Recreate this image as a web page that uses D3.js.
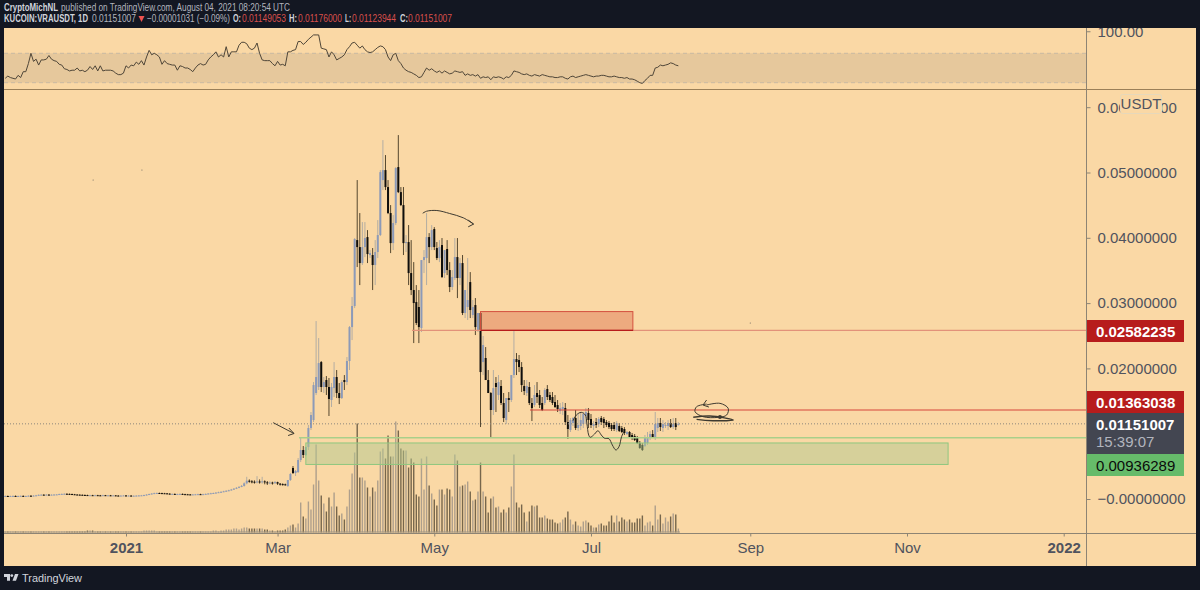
<!DOCTYPE html>
<html>
<head>
<meta charset="utf-8">
<title>KUCOIN:VRAUSDT</title>
<script src="https://cdn.jsdelivr.net/npm/d3@7"></script>
<style>
  html, body { margin: 0; padding: 0; background: #131722; overflow: hidden; }
  text { font-family: "Liberation Sans", Arial, sans-serif; }
</style>
</head>
<body>
<svg id="chart" width="1200" height="590"></svg>
<script>
// first daily candle
var firstDay = Date.UTC(2020, 10, 15);

// prices are in 0.00001 USDT, one entry per day
var opens = [
  45,46,44,46,47,45,46,48,44,46, 50,47,52,56,64,66,64,67,65,66,
  68,70,76,78,80,78,76,72,68,66, 64,62,60,58,58,56,58,56,55,58,
  54,56,53,55,52,50,52,54,50,52, 48,50,52,54,56,60,68,76,84,90,
  92,90,88,86,82,78,78,76,76,78, 74,72,70,68,70,72,74,72,74,78,
  84,88,92,98,104,110,118,126,134,146, 158,172,186,200,240,280,270,265,260,268,
  262,270,255,240,252,245,258,235,228,225,
  199,291,475,398,413,597,750,674,796,1087,
  1209,1623,1715,2097,1715,1822,1715,1516,1699,1868,
  1623,1546,1822,1791,2113,2633,2955,3965,3858,3613,
  3858,4011,3736,3736,3583,3782,4042,4884,5037,4777,
  4379,3919,4226,5083,4700,4501,3919,3935,3460,3200,
  3016,2940,2618,3659,3690,4011,3858,4134,3843,3690,
  3889,3460,3828,3506,3246,3384,3705,3384,3613,2848,
  2940,3322,2817,2970,2587,2848,2097,2159,1822,1623,
  1363,1776,1592,1730,1470,1209,1546,1516,1898,2143,
  2128,2021,1730,1623,1715,1470,1439,1623,1592,1470,
  1470,1684,1592,1562,1485,1439,1347,1378,1393,1179,
  1056,1164,1240,1087,1118,1148,1271,1317,1225,1118,
  1179,1148,1240,1225,1179,1164,1133,1133,1056,1118,
  1087,1072,995,1026,980,965,934,857,827,811,
  857,934,995,949,1087,1164,1087,1118,1118,1164,
  1102,1164,1149
];
var highs = [
  55,53,52,54,54,53,55,54,52,57, 57,58,63,70,73,72,73,73,72,75,
  76,82,84,87,86,84,82,78,74,72, 70,68,66,64,64,65,64,62,64,62,
  62,62,61,60,58,58,60,60,58,58, 56,58,60,62,66,74,82,90,97,100,
  98,96,94,92,88,84,84,82,84,84, 80,78,76,76,78,80,80,80,84,90,
  95,98,105,112,118,126,134,142,155,168, 182,196,215,255,340,300,290,285,350,300,
  340,285,275,270,265,275,265,245,240,235,
  291,398,505,444,628,949,811,800,1133,1332,
  1791,2725,2465,2113,1868,1883,1853,1776,2097,1975,
  1776,1822,1898,2174,2649,3093,3996,4884,4379,4241,
  4241,4118,3812,3843,3965,4271,5037,5496,5267,4884,
  4501,4348,5083,5573,4777,4777,4042,4195,3965,3628,
  3276,3200,3659,3812,4379,4072,4195,4164,3935,3965,
  3996,3812,3965,3628,3506,3996,3996,3690,3736,3200,
  3690,3475,3047,3077,2848,2848,2496,2327,1975,1638,
  1975,1868,1898,1822,1623,1546,1638,1898,2587,2235,
  2205,2097,1822,1822,1791,1546,1745,1791,1669,1562,
  1699,1745,1638,1638,1592,1516,1470,1485,1470,1286,
  1240,1255,1363,1317,1332,1332,1393,1393,1301,1194,
  1240,1255,1271,1255,1209,1194,1164,1179,1194,1164,
  1118,1102,1041,1041,1011,995,965,888,857,980,
  1026,1041,1056,1332,1240,1240,1209,1179,1209,1225,
  1240,1240,1176
];
var lows = [
  38,37,38,40,38,38,40,37,38,40, 40,42,47,50,58,57,58,58,58,60,
  62,64,70,72,70,68,65,62,60,58, 56,54,52,50,50,50,50,48,48,47,
  48,46,47,45,44,44,46,44,44,42, 43,44,46,48,50,54,62,70,76,82,
  84,82,80,76,72,70,70,68,68,68, 66,64,62,62,64,66,66,66,68,72,
  78,84,88,94,100,106,112,120,128,140, 152,165,180,190,225,250,240,235,240,235,
  235,225,215,225,220,230,215,205,205,205,
  184,276,383,352,398,566,628,658,750,1056,
  1179,1592,1669,1638,1623,1592,1271,1409,1562,1546,
  1454,1531,1669,1745,1975,2434,2924,3552,3276,3583,
  3705,3613,3690,3200,3276,3690,4027,4731,4731,4363,
  3766,3812,4195,4685,4486,3736,3782,3276,3123,2388,
  2664,2388,2557,3460,3276,3613,3812,3812,3659,3628,
  3384,3384,3429,3169,3200,3353,3077,3276,2817,2771,
  2741,2771,2771,2511,2557,1102,1898,1822,1623,934,
  1286,1332,1516,1439,1179,1148,1332,1485,1853,1898,
  1944,1638,1592,1577,1439,1194,1409,1470,1393,1347,
  1439,1516,1485,1439,1393,1332,1301,1286,1133,919,
  1026,1118,1056,1041,1056,1087,1148,1087,1087,1056,
  1087,1102,1133,1087,1102,1072,1041,1041,1026,1026,
  1011,980,980,934,903,888,842,766,735,796,
  827,903,934,903,1026,1041,1026,1087,1056,1087,
  1072,1056,1123
];
var closes = [
  46,44,46,47,45,46,48,44,46,50, 47,52,56,64,66,64,67,65,66,68,
  70,76,78,80,78,76,72,68,66,64, 62,60,58,58,56,58,56,55,58,54,
  56,53,55,52,50,52,54,50,52,48, 50,52,54,56,60,68,76,84,90,92,
  90,88,86,82,78,78,76,76,78,74, 72,70,68,70,72,74,72,74,78,84,
  88,92,98,104,110,118,126,134,146,158, 172,186,200,240,280,270,265,260,268,262,
  270,255,240,252,245,258,235,228,225,222,
  291,383,398,429,597,750,674,796,1087,1286,
  1745,1868,2082,1715,1791,1715,1531,1715,1868,1623,
  1546,1791,1791,2113,2633,2955,3981,3858,3613,3858,
  3996,3751,3766,3583,3782,4042,5006,5037,4777,4379,
  3919,4226,5068,4700,4501,3919,3935,3460,3200,3001,
  2695,2633,3659,3705,4011,3858,4118,3858,3690,3858,
  3399,3812,3506,3246,3399,3705,3384,3613,2848,3200,
  3047,2894,2940,2633,2848,1944,2358,1822,1623,1363,
  1699,1715,1791,1470,1240,1546,1516,1898,2143,2097,
  2021,1745,1653,1730,1470,1393,1592,1562,1439,1363,
  1669,1562,1516,1470,1409,1378,1393,1409,1179,1072,
  1209,1240,1087,1133,1209,1301,1332,1209,1133,1148,
  1133,1225,1179,1164,1133,1102,1072,1072,1164,1041,
  1026,1011,1026,949,934,903,857,781,750,934,
  949,995,949,1148,1164,1102,1148,1133,1164,1102,
  1148,1102,1151
];
// volume, relative units
var volumes = [
  1,1,1,1,1,1,1,1,1,1, 1,1,1,1,1,1,1,1,1,1, 1,1,1,1,1,1,1,1,1,1,
  1,1,2,2,2,1,1,1,1,1, 1,1,1,1,1,1,1,1,1,1, 1,1,1,1,2,2,2,2,2,1,
  1,1,1,1,1,1,1,1,1,1, 1,1,1,1,1,1,1,1,1,1, 1,2,2,1,2,2,3,3,3,4,
  4,3,4,5,5,4,4,4,4,4, 4,3,3,2,2,1,2,2,2,3, 5,
  7,8,5,9,30,16,14,31,23,48,
  88,52,37,29,21,35,26,40,26,17,
  19,13,26,43,59,80,109,55,55,52,
  45,36,45,41,52,81,84,74,97,76,
  76,111,102,84,82,82,65,74,70,38,
  36,74,43,76,47,39,33,27,43,43,
  38,44,43,36,78,72,46,47,48,51,
  41,32,33,41,70,41,36,20,34,36,
  25,26,20,23,20,25,46,78,30,25,
  28,20,11,21,
  27,26,27,15,15,17,14,13,13,10,
  9,10,13,15,21,13,8,11,7,6,
  11,12,10,7,5,5,8,9,7,7,
  11,17,10,17,11,15,13,11,13,10,
  10,14,14,17,7,10,11,7,27,13,
  18,9,15,11,16,19,18,4
];
var rsiValues = [
  36,39,37,36,35,40,37,45,45,56, 70,59,62,54,61,61,62,67,62,60,
  59,55,54,49,48,46,47,47,50,46, 47,45,47,52,48,53,46,53,46,47,
  47,47,46,43,41,41,43,53,50,54, 53,58,55,60,54,65,74,68,70,68,
  65,55,60,56,55,54,54,47,53,52, 50,50,48,45,50,54,56,54,55,61,
  65,68,72,65,68,65,79,65,72,72, 72,81,85,85,83,77,75,77,84,70,
  61,60,60,60,56,53,59,54,55,53, 72,72,74,75,86,86,82,85,89,92,
  95,95,95,77,76,75,65,72,68,61, 63,65,68,75,79,84,85,81,77,80,
  75,72,71,72,75,78,80,79,75,65, 60,68,70,
  60,56,50,47,45,44,42,40,37,38,
  44,50,47,49,46,44,46,43,46,44,
  42,43,46,45,44,45,40,42,40,41,
  39,41,36,38,37,38,34,38,37,38,
  37,35,38,37,40,46,45,44,42,41,
  42,40,39,41,40,39,41,40,39,38,
  38,37,37,38,38,36,35,38,39,37,
  38,39,40,41,40,39,38,39,39,40,
  40,39,38,38,39,38,37,37,36,37,
  35,35,34,32,30,29,33,36,40,40,
  50,51,54,53,54,55,57,56,54,53
];

var priceTicks = [0, 0.01, 0.02, 0.03, 0.04, 0.05, 0.06];
var rsiTicks = [100];
var timeTicks = ["2021-01-01", "2021-03-01", "2021-05-01", "2021-07-01", "2021-09-01", "2021-11-01", "2022-01-01"];
var timeLabels = ["2021", "Mar", "May", "Jul", "Sep", "Nov", "2022"];

// drawings, [day offset from 2021-01-01, price in 0.00001 USDT]
var arrowDown = [[57.3,1169],[65.4,1003]];
var arrowDownHead = [[63.4,1087],[65.4,1003],[63.1,972]];
var arrowTop = [[115.5,4376],[117,4407],[121,4418],[126,4372],[131.3,4306],[135.3,4210]];
var arrowTopHead = [[133.2,4271],[135.3,4210],[133.2,4168]];
var wave = [[174,1199],[175.3,1286],[177.2,1327],[178.8,1286],[179.4,1159],[180.1,980],[180.7,945],
  [182.4,995],[183.7,1046],[185,980],[186.3,929],[188,923],[189.3,827],[190.7,750],[191.9,801],[192.9,954],[193.8,1031]];
var scribble = [[226,1439],[231.2,1465],[234.4,1389],[233.8,1286],[230.6,1251],[224.7,1260],[221.5,1337],[222.1,1413],[226,1454]];
var scribbleHead = [[226,1516],[224.6,1439],[226.9,1408]];
var scribbleLine = [[220.8,1251],[227.3,1271],[236.4,1210],[228.5,1199],[222.1,1220]];
var scribbleKnot = [231.2,1255];
var specks = [[-12.8,4884],[6.2,5037],[243,2695]];

var red = "#b71c1c", green = "#66bb6a", peach = "#fad8a5", grey = "#50535e";

var svg = d3.select("#chart");

svg.append("defs").append("clipPath").attr("id", "frame")
  .append("rect").attr("x", 4).attr("y", 28).attr("width", 1192).attr("height", 538);

var x = d3.scaleUtc().domain([Date.UTC(2021, 0, 1), Date.UTC(2022, 0, 1)]).range([126, 1063.7]);
var y = d3.scaleLinear().domain([0, 0.06]).range([499, 107.2]);
var yRsi = d3.scaleLinear().domain([30, 70]).range([82.7, 53.3]);
var yVol = d3.scaleLinear().domain([0, 110]).range([532.5, 422.5]);

function dayX(i) { return x(firstDay + i * 86400000); }
function drawX(d) { return x(Date.UTC(2021, 0, 1) + d * 86400000); }
function priceY(v) { return y(v / 100000); }

// panel background
svg.append("rect").attr("x", 4).attr("y", 28).attr("width", 1192).attr("height", 538).attr("fill", peach);

var plot = svg.append("g").attr("clip-path", "url(#frame)");

// RSI pane
plot.append("rect").attr("x", 4).attr("width", 1082)
  .attr("y", yRsi(70)).attr("height", yRsi(30) - yRsi(70)).attr("fill", "#e6c89c");
[70, 30].forEach(function(level) {
  plot.append("line").attr("x1", 4).attr("x2", 1086).attr("y1", yRsi(level)).attr("y2", yRsi(level))
    .attr("stroke", "#c9b9a2").attr("stroke-dasharray", "4,3");
});
var rsiLine = d3.line().x(function(d, i) { return dayX(i); }).y(function(d) { return yRsi(d); });
plot.append("path").datum(rsiValues).attr("d", rsiLine).attr("fill", "none")
  .attr("stroke", "#4f4638").attr("stroke-width", 1);

// volume
plot.selectAll("rect.vol").data(volumes).enter().append("rect").attr("class", "vol")
  .attr("x", function(d, i) { return dayX(i) - 0.7; })
  .attr("width", 1.4)
  .attr("y", function(d) { return yVol(d); })
  .attr("height", function(d) { return yVol(0) - yVol(d); })
  .attr("fill", function(d, i) { return closes[i] >= opens[i] ? "#ae9f8c" : "#76664c"; });
plot.append("line").attr("x1", 4).attr("x2", 680).attr("y1", 532).attr("y2", 532)
  .attr("stroke", "#a09480").attr("stroke-width", 1);

// candles
var candles = plot.selectAll("g.candle").data(opens).enter().append("g").attr("class", "candle");
candles.append("line")
  .attr("x1", function(d, i) { return dayX(i); })
  .attr("x2", function(d, i) { return dayX(i); })
  .attr("y1", function(d, i) { return priceY(highs[i]); })
  .attr("y2", function(d, i) { return priceY(lows[i]); })
  .attr("stroke", function(d, i) { return closes[i] >= d ? "#b3ada3" : "#55472f"; })
  .attr("stroke-width", 1);
candles.append("rect")
  .attr("x", function(d, i) { return dayX(i) - 1; })
  .attr("width", 2)
  .attr("y", function(d, i) { return priceY(Math.max(d, closes[i])); })
  .attr("height", function(d, i) { return Math.max(1, Math.abs(priceY(d) - priceY(closes[i]))); })
  .attr("fill", function(d, i) { return closes[i] >= d ? "#8c9ab8" : "#0f0e0c"; });

// support and resistance levels
function levelLine(x1, x2, price, color, width, dash) {
  plot.append("line").attr("x1", x1).attr("x2", x2).attr("y1", y(price)).attr("y2", y(price))
    .attr("stroke", color).attr("stroke-width", width).attr("stroke-dasharray", dash || null);
}
levelLine(4, 1086, 0.01151007, "#8d877c", 1, "1,2");
levelLine(412, 1086, 0.02582235, "#e2927a", 1.4);
levelLine(530, 1086, 0.01363038, "#d5473c", 1.2);
levelLine(299, 1086, 0.00936289, "#a9cf8a", 1.5);

// zones
plot.append("rect").attr("x", drawX(138)).attr("width", drawX(197.3) - drawX(138))
  .attr("y", y(0.0287)).attr("height", y(0.02582235) - y(0.0287))
  .attr("fill", "rgba(214,90,60,0.36)").attr("stroke", "#d4503f").attr("stroke-width", 1);
plot.append("line").attr("x1", 481).attr("x2", 633).attr("y1", y(0.02582235)).attr("y2", y(0.02582235))
  .attr("stroke", red).attr("stroke-width", 1.2);
plot.append("rect").attr("x", drawX(70)).attr("width", drawX(320) - drawX(70))
  .attr("y", y(0.00858)).attr("height", y(0.00529) - y(0.00858))
  .attr("fill", "rgba(178,200,143,0.5)").attr("stroke", "#8fc77f").attr("stroke-width", 1);

// hand drawn marks
var draw = plot.append("g").attr("fill", "none").attr("stroke", "#3e3a30").attr("stroke-width", 1);
var straight = d3.line().x(function(d) { return drawX(d[0]); }).y(function(d) { return priceY(d[1]); });
var smooth = d3.line().x(function(d) { return drawX(d[0]); }).y(function(d) { return priceY(d[1]); }).curve(d3.curveCatmullRom);
draw.append("path").attr("d", straight(arrowDown));
draw.append("path").attr("d", straight(arrowDownHead));
draw.append("path").attr("d", smooth(arrowTop));
draw.append("path").attr("d", straight(arrowTopHead));
draw.append("path").attr("d", smooth(wave));
draw.append("path").attr("d", smooth(scribble));
draw.append("path").attr("d", straight(scribbleHead));
draw.append("path").attr("d", smooth(scribbleLine)).attr("stroke-width", 1.4);
plot.append("circle").attr("cx", drawX(scribbleKnot[0])).attr("cy", priceY(scribbleKnot[1])).attr("r", 2).attr("fill", "#3e3a30");
specks.forEach(function(s) {
  plot.append("circle").attr("cx", drawX(s[0])).attr("cy", priceY(s[1])).attr("r", 0.5).attr("fill", "#555");
});

// pane borders
svg.append("line").attr("x1", 4).attr("x2", 1196).attr("y1", 89.5).attr("y2", 89.5).attr("stroke", "#9a7f58");
svg.append("line").attr("x1", 4).attr("x2", 1196).attr("y1", 533.5).attr("y2", 533.5).attr("stroke", "#8d8474");
svg.append("line").attr("x1", 1086.5).attr("x2", 1086.5).attr("y1", 28).attr("y2", 566).attr("stroke", "#8d8474");

// price axis
var priceFormat = function(d) { return d === 0 ? "\u22120.00000000" : d.toFixed(8); };
var priceAxis = svg.append("g").attr("transform", "translate(1086.5,0)")
  .call(d3.axisRight(y).tickValues(priceTicks).tickFormat(priceFormat).tickSize(4).tickPadding(7));
var rsiAxis = svg.append("g").attr("transform", "translate(1086.5,0)").attr("clip-path", "url(#frameAxis)")
  .call(d3.axisRight(d3.scaleLinear().domain([0, 100]).range([yRsi(0), yRsi(100)])).tickValues(rsiTicks)
    .tickFormat(d3.format(".2f")).tickSize(4).tickPadding(7));
d3.select("defs").append("clipPath").attr("id", "frameAxis")
  .append("rect").attr("x", -10).attr("y", 28).attr("width", 120).attr("height", 60);
[priceAxis, rsiAxis].forEach(function(a) {
  a.select(".domain").remove();
  a.selectAll("line").attr("stroke", "#8d8474");
  a.selectAll("text").attr("fill", grey).attr("font-size", 15).attr("font-family", "Liberation Sans");
});

// USDT badge
svg.append("rect").attr("x", 1120.5).attr("y", 94.5).attr("width", 41).attr("height", 19).attr("rx", 2)
  .attr("fill", peach).attr("stroke", "#e6d8bb");
svg.append("text").attr("x", 1141).attr("y", 109).attr("text-anchor", "middle")
  .attr("font-size", 15).attr("fill", grey).text("USDT");

// last price and level tags
var tags = [
  { label: "0.02582235", top: 320, h: 22, fill: red, color: "#fff" },
  { label: "0.01363038", top: 391, h: 22, fill: red, color: "#fff" },
  { label: "0.01151007", top: 413, h: 41, fill: "#434651", color: "#fff" },
  { label: "0.00936289", top: 454, h: 22, fill: green, color: "#0b0b0b" }
];
tags.forEach(function(t) {
  svg.append("rect").attr("x", 1087).attr("y", t.top).attr("width", 97).attr("height", t.h).attr("fill", t.fill);
  svg.append("text").attr("x", 1096).attr("y", t.top + 16.5).attr("font-size", 15).attr("fill", t.color)
    .attr("font-weight", t.fill === green ? 400 : 700).text(t.label);
});
svg.append("text").attr("x", 1096).attr("y", 447).attr("font-size", 15).attr("fill", "#b2b5be").text("15:39:07");

// time axis
var timeAxis = svg.append("g").attr("transform", "translate(0,533.5)")
  .call(d3.axisBottom(x).tickValues(timeTicks.map(function(d) { return new Date(d + "T00:00:00Z"); }))
    .tickFormat(function(d, i) { return timeLabels[i]; }).tickSize(3).tickPadding(6));
timeAxis.select(".domain").remove();
timeAxis.selectAll("line").attr("stroke", "#8d8474");
timeAxis.selectAll("text").attr("fill", grey).attr("font-size", 15).attr("font-family", "Liberation Sans")
  .attr("font-weight", function(d, i) { return timeLabels[i].length === 4 ? 700 : 400; });

// header, squeezed to the widths in the picture
function headerText(px, py, width, str, color, bold) {
  svg.append("text").attr("x", px).attr("y", py).attr("font-size", 10).attr("fill", color)
    .attr("font-weight", bold ? 700 : 400)
    .attr("textLength", width).attr("lengthAdjust", "spacingAndGlyphs").text(str);
}
headerText(4, 11, 54, "CryptoMichNL", "#d1d4dc", true);
headerText(61, 11, 229, "published on TradingView.com, August 04, 2021 08:20:54 UTC", "#b2b5be");
headerText(4, 21.5, 84, "KUCOIN:VRAUSDT, 1D", "#d1d4dc", true);
headerText(92, 21.5, 44, "0.01151007", "#b2b5be");
svg.append("path").attr("d", "M138.5 16h6l-3 6z").attr("fill", "#ef5350");
headerText(147, 21.5, 83, "\u22120.00001031 (\u22120.09%)", "#b2b5be");
var ohlcLabels = ["O:", "H:", "L:", "C:"];
var ohlcValues = ["0.01149053", "0.01176000", "0.01123944", "0.01151007"];
var labelX = [233, 289, 345, 400];
var valueX = [242, 298, 352, 408];
ohlcLabels.forEach(function(l, i) {
  headerText(labelX[i], 21.5, l === "L:" ? 6 : 8, l, "#d1d4dc", true);
  headerText(valueX[i], 21.5, 44, ohlcValues[i], "#d9504c");
});

// footer logo
var logo = svg.append("g").attr("fill", "#d1d4dc");
logo.append("path").attr("d", "M4 574h6v6.7H7V577H4z");
logo.append("circle").attr("cx", 11.8).attr("cy", 575.6).attr("r", 1.4);
logo.append("path").attr("d", "M12.5 580.7l2.5-6.7h3.5l-2.5 6.7z");
svg.append("text").attr("x", 22).attr("y", 582).attr("font-size", 11.5).attr("fill", "#d1d4dc")
  .attr("font-family", "Roboto").attr("textLength", 60).attr("lengthAdjust", "spacingAndGlyphs").text("TradingView");
</script>
</body>
</html>
